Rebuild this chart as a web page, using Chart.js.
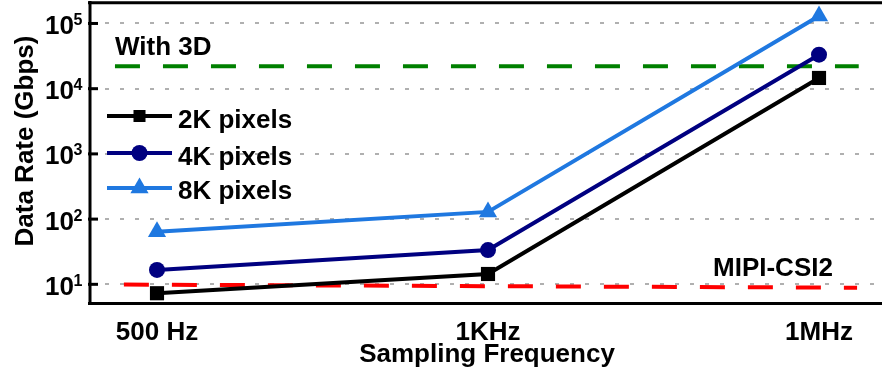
<!DOCTYPE html>
<html>
<head>
<meta charset="utf-8">
<script src="https://cdn.jsdelivr.net/npm/chart.js@4/dist/chart.umd.min.js"></script>
<style>
  html, body { margin: 0; padding: 0; background: #ffffff; }
  #wrap { width: 882px; height: 382px; }
</style>
</head>
<body>
<div id="wrap"><canvas id="c" width="882" height="382"></canvas></div>
<script>
// ---- data ----
const categories = ['500 Hz', '1KHz', '1MHz'];
const px2K = [7.3, 14.4, 14600];
const px4K = [16.6, 33.5, 33200];
const px8K = [64, 129, 130000];
const with3DX = [-0.127, 2.12];
const with3D = [22000, 22000];
const mipiX = [-0.1, 2.115];
const mipi = [9.9, 8.87];
const yTickValues = [10, 100, 1000, 10000, 100000];
const yTickExp = ['1', '2', '3', '4', '5'];
const seriesNames = ['2K pixels', '4K pixels', '8K pixels'];
const refNames = ['With 3D', 'MIPI-CSI2'];

const FONT = '"Liberation Sans", Arial, Helvetica, sans-serif';
const colors = ['#000000', '#000080', '#1f78e0'];
const styles = ['rect', 'circle', 'triangle'];
const radii = [10, 8, 10.5];

function pts(xs, ys) { return ys.map((v, i) => ({ x: xs[i], y: v })); }
const idx = categories.map((_, i) => i);

const series = [px2K, px4K, px8K].map((arr, i) => ({
  label: seriesNames[i],
  data: pts(idx, arr),
  borderColor: colors[i],
  backgroundColor: colors[i],
  borderWidth: 4,
  pointStyle: styles[i],
  pointRadius: radii[i],
  pointHoverRadius: radii[i],
  pointBorderWidth: 0,
  tension: 0,
  order: i + 1,
  clip: false
}));

const refs = [
  { label: refNames[0], data: pts(with3DX, with3D), borderColor: '#008000' },
  { label: refNames[1], data: pts(mipiX, mipi), borderColor: '#ff0000' }
].map(d => Object.assign(d, {
  borderWidth: 4, borderDash: [25, 23], pointRadius: 0, tension: 0, order: 10, clip: false
}));

function drawMarker(ctx, style, x, y, r, color) {
  ctx.save();
  ctx.fillStyle = color;
  ctx.beginPath();
  if (style === 'rect') {
    const s = Math.SQRT1_2 * r;
    ctx.rect(x - s, y - s, 2 * s, 2 * s);
  } else if (style === 'circle') {
    ctx.arc(x, y, r, 0, Math.PI * 2);
  } else {
    const a = Math.PI * 2 / 3;
    ctx.moveTo(x, y - r);
    ctx.lineTo(x + Math.sin(a) * r, y - Math.cos(a) * r);
    ctx.lineTo(x - Math.sin(a) * r, y - Math.cos(a) * r);
    ctx.closePath();
  }
  ctx.fill();
  ctx.restore();
}

const decor = {
  id: 'decor',
  beforeDatasetsDraw(chart) {
    const { ctx, chartArea, scales } = chart;
    ctx.save();
    ctx.strokeStyle = '#b0b0b0';
    ctx.lineWidth = 2;
    ctx.setLineDash([4, 11]);
    yTickValues.forEach(v => {
      const y = Math.round(scales.y.getPixelForValue(v));
      ctx.beginPath();
      ctx.moveTo(105, y);
      ctx.lineTo(chartArea.right, y);
      ctx.stroke();
    });
    ctx.restore();
  },
  afterDraw(chart) {
    const { ctx, chartArea, scales } = chart;
    ctx.save();
    // frame
    ctx.strokeStyle = '#000';
    ctx.lineWidth = 3;
    ctx.setLineDash([]);
    ctx.beginPath();
    ctx.moveTo(88, chartArea.top - 0.2);
    ctx.lineTo(chartArea.right, chartArea.top - 0.2);
    ctx.moveTo(chartArea.left, 1);
    ctx.lineTo(chartArea.left, chartArea.bottom + 1.5);
    ctx.moveTo(88, chartArea.bottom);
    ctx.lineTo(chartArea.right, chartArea.bottom);
    ctx.stroke();
    // y ticks
    ctx.fillStyle = '#000';
    yTickValues.forEach((v, i) => {
      const y = scales.y.getPixelForValue(v);
      ctx.beginPath();
      ctx.moveTo(88, y);
      ctx.lineTo(98, y);
      ctx.stroke();
      ctx.font = 'bold 26px ' + FONT;
      ctx.textAlign = 'right';
      ctx.textBaseline = 'alphabetic';
      ctx.fillText('10', 74, y + 10.5);
      ctx.font = 'bold 16px ' + FONT;
      ctx.textAlign = 'left';
      ctx.fillText(yTickExp[i], 73.5, y + 1.5);
    });
    // x tick labels
    ctx.font = 'bold 26px ' + FONT;
    ctx.textAlign = 'center';
    ctx.textBaseline = 'alphabetic';
    categories.forEach((c, i) => {
      ctx.fillText(c, scales.x.getPixelForValue(i), 340);
    });
    // axis titles
    ctx.fillText('Sampling Frequency', 487, 362);
    ctx.save();
    ctx.translate(33, 141);
    ctx.rotate(-Math.PI / 2);
    ctx.fillText('Data Rate (Gbps)', 0, 0);
    ctx.restore();
    // reference labels
    ctx.textAlign = 'left';
    ctx.fillText(refNames[0], 115, 55);
    ctx.fillText(refNames[1], 713, 276);
    // legend
    const ly = [116, 153, 188];
    const tb = [128, 165, 199];
    seriesNames.forEach((n, i) => {
      ctx.strokeStyle = colors[i];
      ctx.lineWidth = 4;
      ctx.beginPath();
      ctx.moveTo(107, ly[i]);
      ctx.lineTo(172, ly[i]);
      ctx.stroke();
      drawMarker(ctx, styles[i], 139.5, ly[i], i === 0 ? 8.5 : radii[i], colors[i]);
      ctx.fillStyle = '#000';
      ctx.fillText(n, 178, tb[i]);
    });
    ctx.restore();
  }
};

new Chart(document.getElementById('c'), {
  type: 'line',
  data: { datasets: series.concat(refs) },
  options: {
    responsive: false,
    animation: false,
    events: [],
    layout: { autoPadding: false, padding: { left: 90, top: 3, right: 0, bottom: 78.5 } },
    plugins: { legend: { display: false }, tooltip: { enabled: false } },
    scales: {
      x: { type: 'linear', min: -0.2024, max: 2.1903, display: false },
      y: { type: 'logarithmic', min: 5.08, max: 206000, display: false }
    }
  },
  plugins: [decor]
});
</script>
</body>
</html>
